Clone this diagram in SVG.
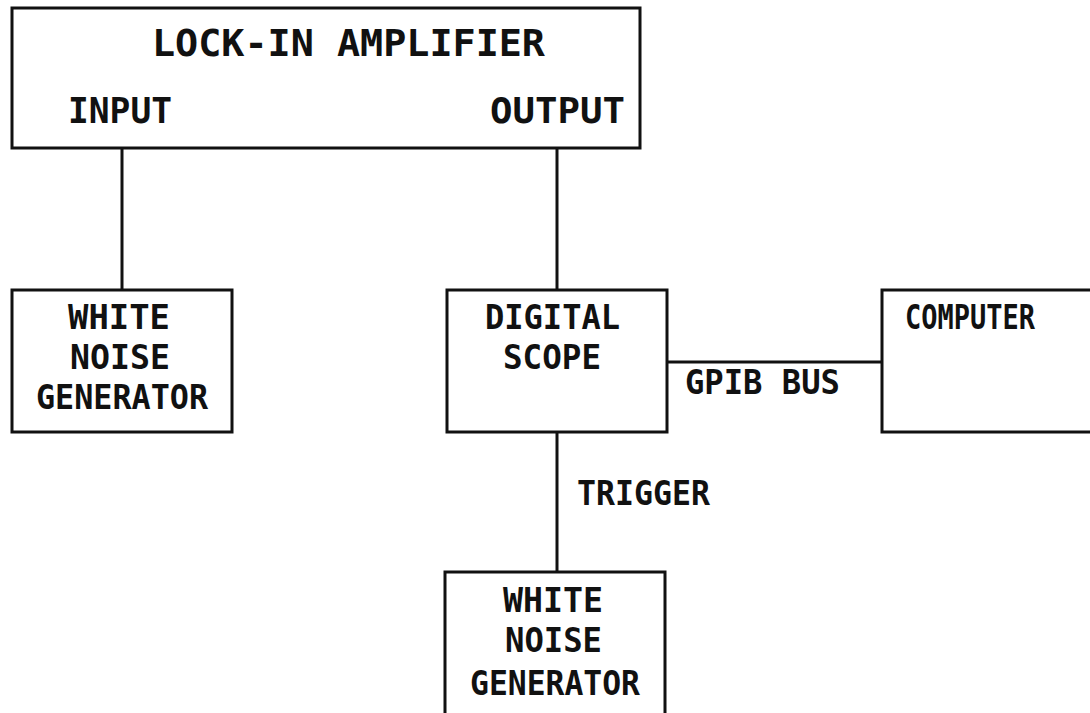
<svg xmlns="http://www.w3.org/2000/svg" width="1090" height="713" viewBox="0 0 1090 713">
<style>
.box{fill:none;stroke:#111;stroke-width:3}
.ln{stroke:#111;stroke-width:3;fill:none}
text{font-family:"DejaVu Sans Mono","Liberation Mono",monospace;font-weight:bold;fill:#111;font-size:33px}
.t{font-size:38px}
.m{font-size:35px}
</style>
<rect width="1090" height="713" fill="#fff"/>
<g id="connectors">
<line class="ln" x1="122" y1="148" x2="122" y2="290"/>
<line class="ln" x1="557" y1="148" x2="557" y2="290"/>
<line class="ln" x1="667" y1="362" x2="882" y2="362"/>
<line class="ln" x1="557" y1="432" x2="557" y2="572"/>
<text x="685" y="394" textLength="155" lengthAdjust="spacingAndGlyphs">GPIB BUS</text>
<text x="577" y="505" textLength="133" lengthAdjust="spacingAndGlyphs">TRIGGER</text>
</g>
<g id="lockin">
<rect class="box" x="12" y="8" width="628" height="140"/>
<text class="t" x="152" y="56" textLength="393" lengthAdjust="spacingAndGlyphs">LOCK-IN AMPLIFIER</text>
<text class="m" x="68" y="123" textLength="104" lengthAdjust="spacingAndGlyphs">INPUT</text>
<text class="m" x="490" y="123" textLength="135" lengthAdjust="spacingAndGlyphs">OUTPUT</text>
</g>
<g id="wng1">
<rect class="box" x="12" y="290" width="220" height="142"/>
<text x="68" y="329" textLength="102" lengthAdjust="spacingAndGlyphs">WHITE</text>
<text x="70" y="369" textLength="100" lengthAdjust="spacingAndGlyphs">NOISE</text>
<text x="36" y="409" textLength="172" lengthAdjust="spacingAndGlyphs">GENERATOR</text>
</g>
<g id="scope">
<rect class="box" x="447" y="290" width="220" height="142"/>
<text x="485" y="329" textLength="135" lengthAdjust="spacingAndGlyphs">DIGITAL</text>
<text x="503" y="369" textLength="98" lengthAdjust="spacingAndGlyphs">SCOPE</text>
</g>
<g id="computer">
<rect class="box" x="882" y="290" width="220" height="142"/>
<text x="905" y="329" textLength="130" lengthAdjust="spacingAndGlyphs">COMPUTER</text>
</g>
<g id="wng2">
<rect class="box" x="445" y="572" width="220" height="150"/>
<text x="503" y="612" textLength="100" lengthAdjust="spacingAndGlyphs">WHITE</text>
<text x="505" y="652" textLength="97" lengthAdjust="spacingAndGlyphs">NOISE</text>
<text x="470" y="695" textLength="170" lengthAdjust="spacingAndGlyphs">GENERATOR</text>
</g>
</svg>
